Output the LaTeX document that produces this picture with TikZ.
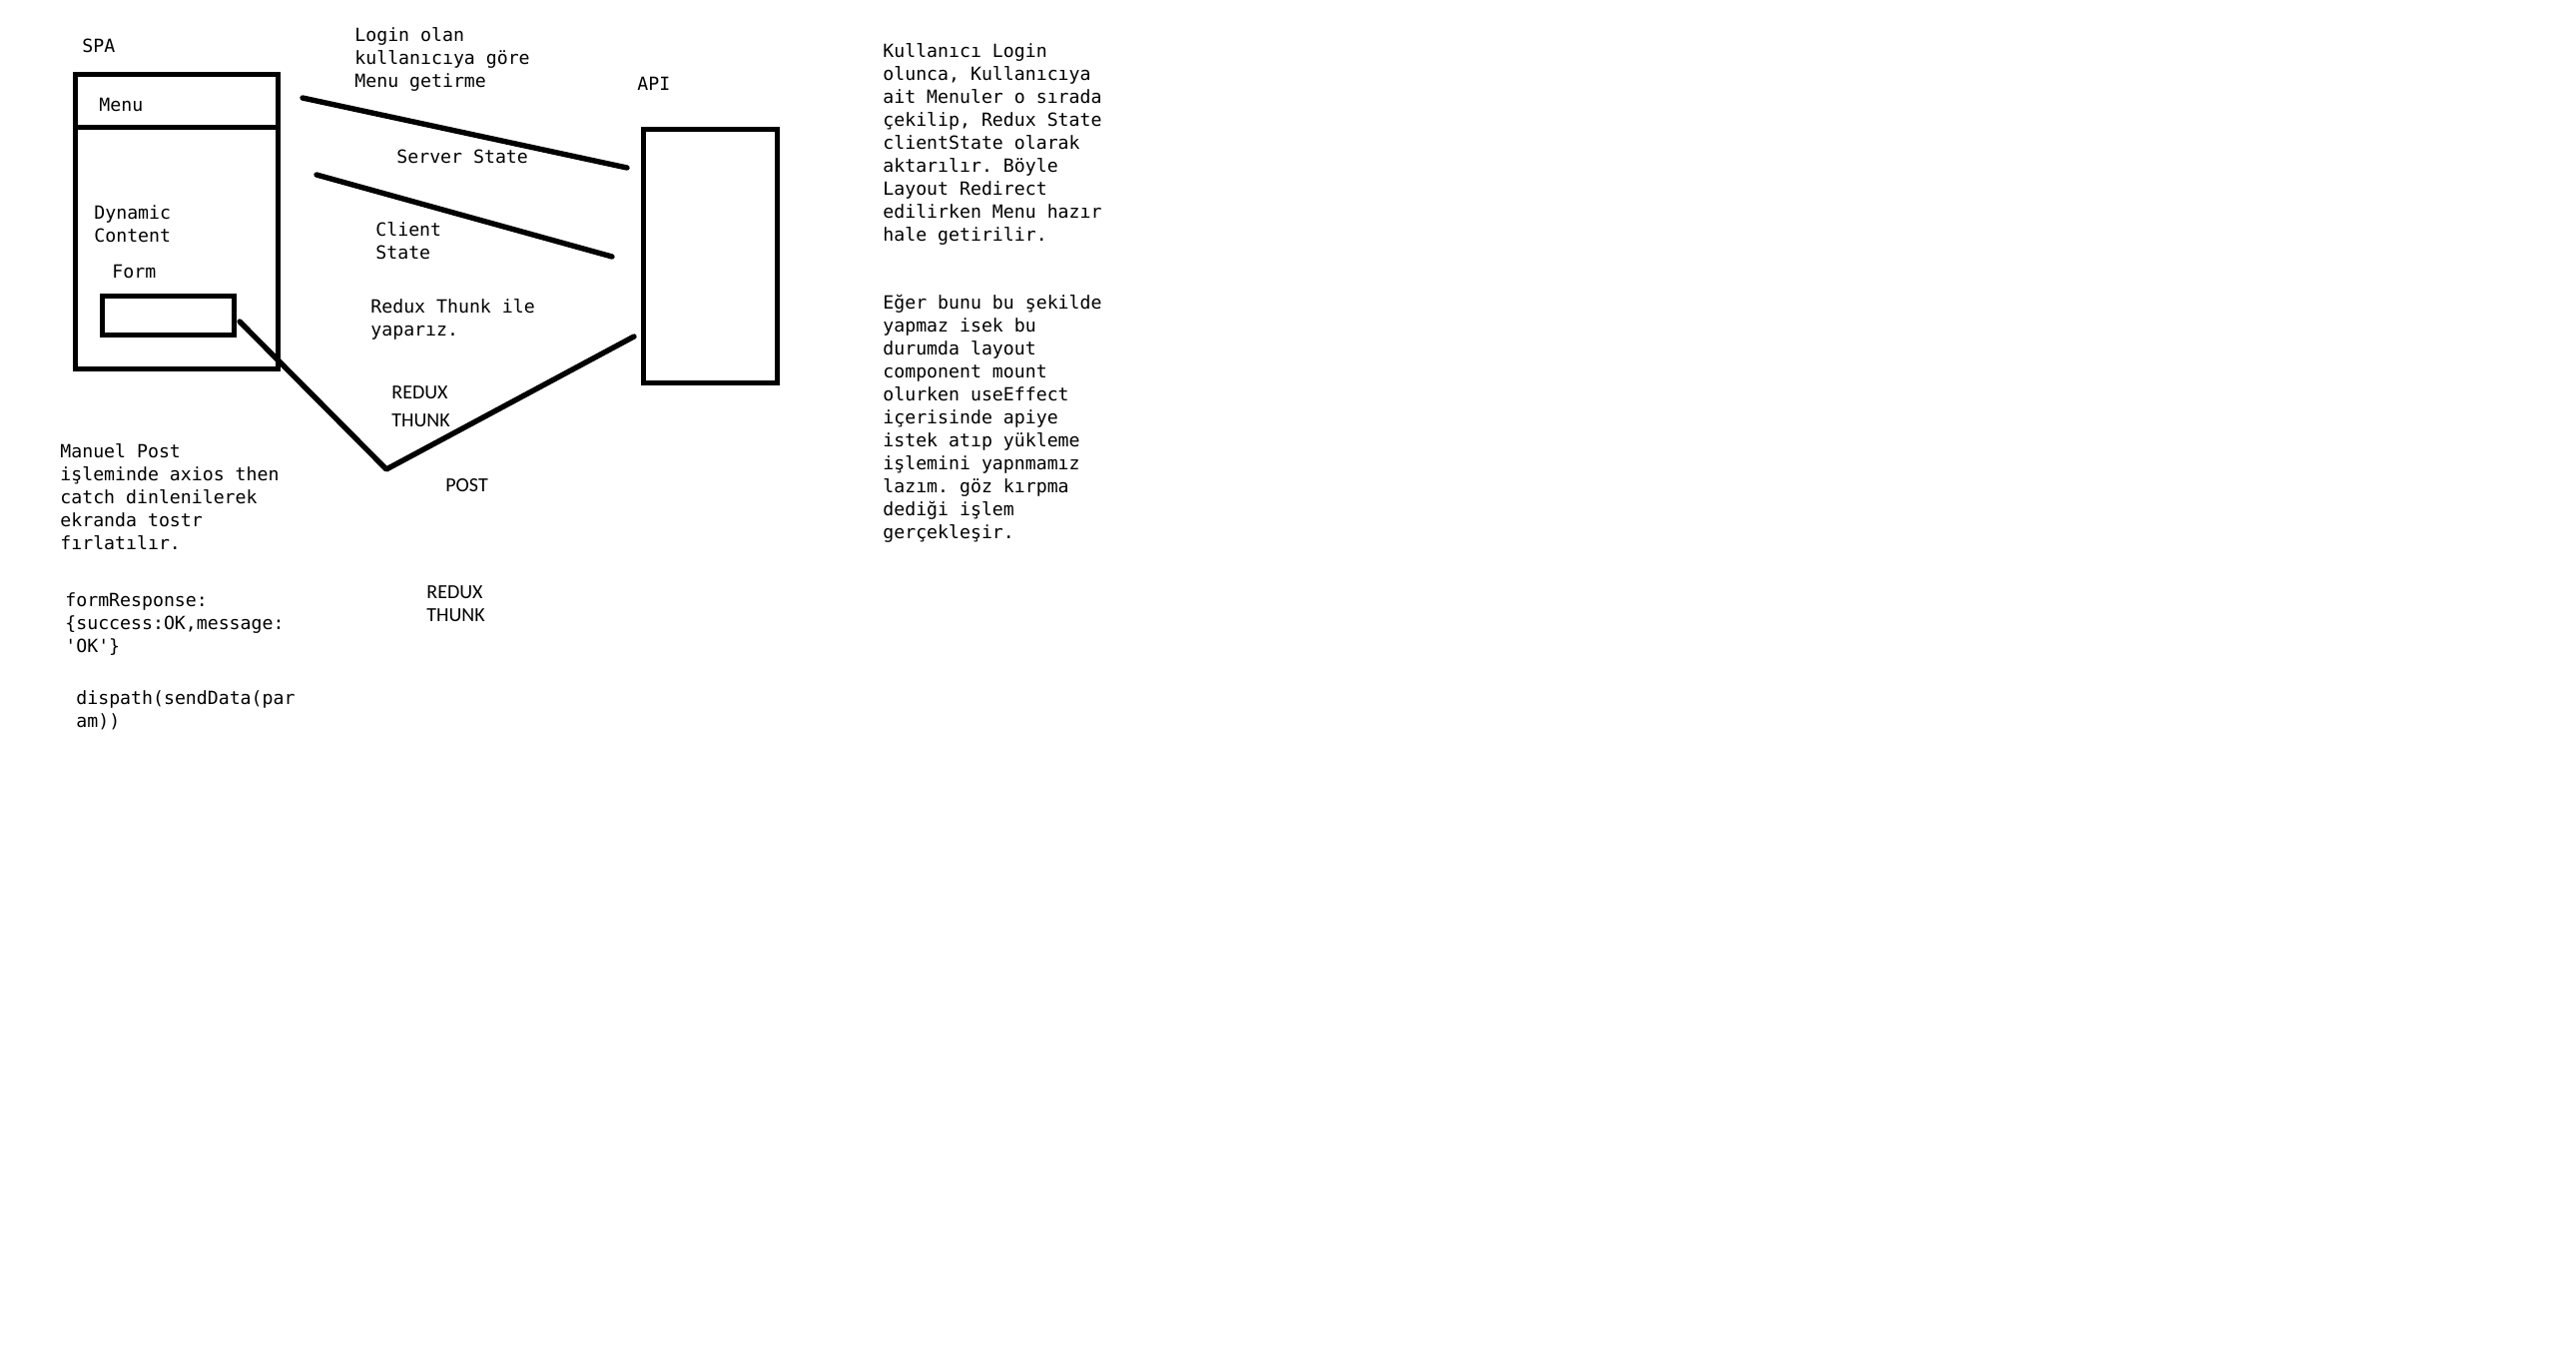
\documentclass[tikz,border=0pt]{standalone}
\usepackage{fontspec}
\setmonofont{DejaVu Sans Mono}
\newfontfamily\labelfont{Carlito}
\usetikzlibrary{positioning}

\begin{document}
\begin{tikzpicture}[x=0.5pt, y=-0.5pt]

    \tikzset{%
    every box/.style={
        draw,
        line width=2.5pt,
        inner sep=0pt
        },
    note/.style={
        anchor=base west,
        inner sep=0pt,
        align=left,
        font=\ttfamily\fontsize{9.1}{11.5}\selectfont
        },
    tag/.style={
        anchor=base west,
        inner sep=0pt,
        align=left,
        font=\labelfont\fontsize{10}{14}\selectfont
        },
    wire/.style={
        line width=2.7pt,
        line cap=round,
        line join=round
        },
    }

    \useasboundingbox (0,0) rectangle (2580,1372);

    % SPA box with menu bar and form
    \node [every box, minimum width=101.5pt, minimum height=147.5pt] (spa) at (177,221.5) {};
    \node [every box, minimum width=66pt, minimum height=19.5pt] (form) at (168,315.5) {};
    \coordinate (menu-left) at (75.5,127.7);
    \coordinate (menu-right) at (281,127.7);
    \draw [line width=2.5pt] (menu-left) -- (menu-right);

    % API box
    \node [every box, minimum width=66.75pt, minimum height=127pt] (api) at (711.25,256) {};

    % Box labels (anchored at the last line's baseline)
    \node [note] (spa-label) at (82,52) {SPA};
    \node [note] (api-label) at (638,90) {API};
    \node [note] (menu-label) at (99,111) {Menu};
    \node [note] (content-label) at (94,242) {Dynamic\\Content};
    \node [note] (form-label) at (112,278) {Form};

    % Lines between SPA and API
    \coordinate (server-a) at (303,98);
    \coordinate (server-b) at (628,168);
    \coordinate (client-a) at (317,175);
    \coordinate (client-b) at (613,257);
    \coordinate (post-a) at (240,322);
    \coordinate (post-v) at (387,470);
    \coordinate (post-b) at (635,337);
    \draw [wire] (server-a) -- (server-b);
    \draw [wire] (client-a) -- (client-b);
    \draw [wire] (post-a) -- (post-v) -- (post-b);

    % Line labels
    \node [note] (login-note) at (355,87) {Login olan\\kullanıcıya göre\\Menu getirme};
    \node [note] (server-label) at (397,163) {Server State};
    \node [note] (client-label) at (376,259) {Client\\State};
    \node [note] (thunk-note) at (371,336) {Redux Thunk ile\\yaparız.};
    \node [tag] (thunk-1) at (392,427) {REDUX\\THUNK};
    \node [tag] (post-label) at (446,492) {POST};
    \node [tag, font=\labelfont\fontsize{10}{11.5}\selectfont] (thunk-2) at (427,622) {REDUX\\THUNK};

    % Notes under SPA
    \node [note] (manual-note) at (60,550) {Manuel Post\\işleminde axios then\\catch dinlenilerek\\ekranda tostr\\fırlatılır.};
    \node [note] (response-note) at (65,653) {formResponse:\\\{success:OK,message:\\'OK'\}};
    \node [note] (dispatch-note) at (76,728) {dispath(sendData(par\\am))};

    % Notes on the right
    \node [note] (login-text) at (884,241) {Kullanıcı Login\\olunca, Kullanıcıya\\ait Menuler o sırada\\çekilip, Redux State\\clientState olarak\\aktarılır. Böyle\\Layout Redirect\\edilirken Menu hazır\\hale getirilir.};
    \node [note] (effect-text) at (884,539) {Eğer bunu bu şekilde\\yapmaz isek bu\\durumda layout\\component mount\\olurken useEffect\\içerisinde apiye\\istek atıp yükleme\\işlemini yapnmamız\\lazım. göz kırpma\\dediği işlem\\gerçekleşir.};

\end{tikzpicture}
\end{document}
